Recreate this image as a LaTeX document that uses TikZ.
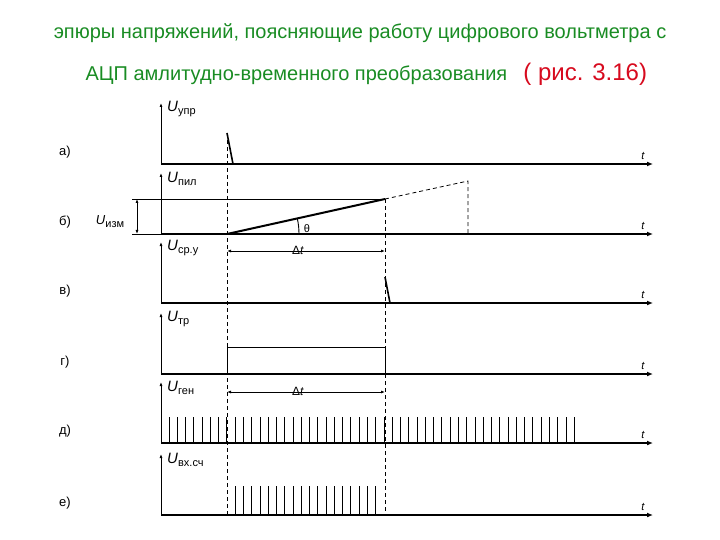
\documentclass[tikz,border=0pt]{standalone}
\usepackage{fontspec}
\setmainfont{Liberation Sans}
\usepackage{tikz}
\usetikzlibrary{positioning,arrows.meta}
\definecolor{titlegreen}{RGB}{25,140,35}
\definecolor{figred}{RGB}{215,10,30}
\tikzset{
	taxis/.style={line width=2.4pt,-{Latex[length=6pt,width=5pt]}},
	uaxis/.style={line width=0.9pt,-{Latex[length=4pt,width=3pt]}},
	guide/.style={line width=0.8pt,dash pattern=on 4pt off 3pt},
	fine/.style={line width=0.9pt},
	spike/.style={line width=1.6pt},
	pulse/.style={line width=0.9pt},
	span/.style={line width=0.9pt,{Latex[length=4pt,width=3pt]}-{Latex[length=4pt,width=3pt]}},
	ulabel/.style={font=\fontsize{15}{15}\selectfont,inner sep=0pt,anchor=west},
	plabel/.style={font=\fontsize{13}{13}\selectfont},
	titletext/.style={font=\fontsize{20}{20}\selectfont,text=titlegreen}
}
\newcommand{\usub}[1]{\textit{U}\raisebox{-0.45ex}{\fontsize{11}{11}\selectfont #1}}
\begin{document}
\begin{tikzpicture}[x=1pt,y=-1pt]
		\useasboundingbox (0,0) rectangle (720,540);
		\node[titletext] (title1) at (360,33) {эпюры напряжений, поясняющие работу цифрового вольтметра с};
		\node[titletext,anchor=west] (title2) at (82,75) {АЦП амлитудно-временного преобразования};
		\node[font=\fontsize{24}{24}\selectfont,text=figred,base right=9pt of title2] (figref) {( рис. 3.16)};
		% axes
		\foreach \i/\yb/\lab/\sub in {a/164/а)/упр,b/234/б)/пил,c/303/в)/ср.у,d/374/г)/тр,e/443/д)/ген,f/515/е)/вх.сч}{
			\coordinate (o\i) at (161,\yb);
			\coordinate (end\i) at (653,\yb);
			\coordinate (top\i) at (161,\yb-61);
			\draw[taxis] (o\i) -- (end\i);
			\draw[uaxis] (o\i) -- (top\i);
			\node[ulabel] (u\i) at (167,\yb-55) {\usub{\sub}};
			\node[font=\fontsize{11}{11}\selectfont\itshape] (t\i) at (643,\yb-8) {t};
			\node[plabel] (p\i) at (65,\yb-12) {\lab};
		}
		\coordinate (kick) at (227,133);
		\coordinate (start) at (227,234);
		\coordinate (stop) at (385,199);
		\coordinate (sweep) at (468,181);
		\coordinate (g1) at (227,515);
		\coordinate (g2) at (385,515);
		\draw[guide] (kick) -- (g1);
		\draw[guide] (stop) -- (g2);
		\draw[guide] (stop) -- (sweep) -- (sweep |- ob);
		\draw[spike] (kick) -- (233,164);
		% U_izm
		\draw[fine] (132,199) -- (stop);
		\draw[fine] (132,234) -- (ob);
		\draw[span] (137,199) -- (137,234);
		\node[plabel] (uizm) at (110,222) {\usub{изм}};
		\draw[line width=2pt] (start) -- (stop);
		\draw[fine] (start) ++(72,0) arc[start angle=0,end angle=-12.6,radius=72];
		\node[font=\fontsize{11}{11}\selectfont] (theta) at (307,229) {θ};
		% delta t
		\draw[span] (227,251) -- (385,251);
		\node[font=\fontsize{12}{12}\selectfont] (dt1) at (298,250) {Δ\textit{t}};
		\draw[spike] (385,277) -- (390,303);
		\draw[fine] (227,374) -- (227,347) -- (385,347) -- (385,374);
		\draw[span] (227,392) -- (385,392);
		\node[font=\fontsize{12}{12}\selectfont] (dt2) at (298,391) {Δ\textit{t}};
		\foreach \k in {0,...,49} \draw[pulse] (169+\k*8.27,443) -- ++(0,-26);
		\foreach \k in {8,...,25} \draw[pulse] (169+\k*8.27,515) -- ++(0,-29);
	\end{tikzpicture}
\end{document}
